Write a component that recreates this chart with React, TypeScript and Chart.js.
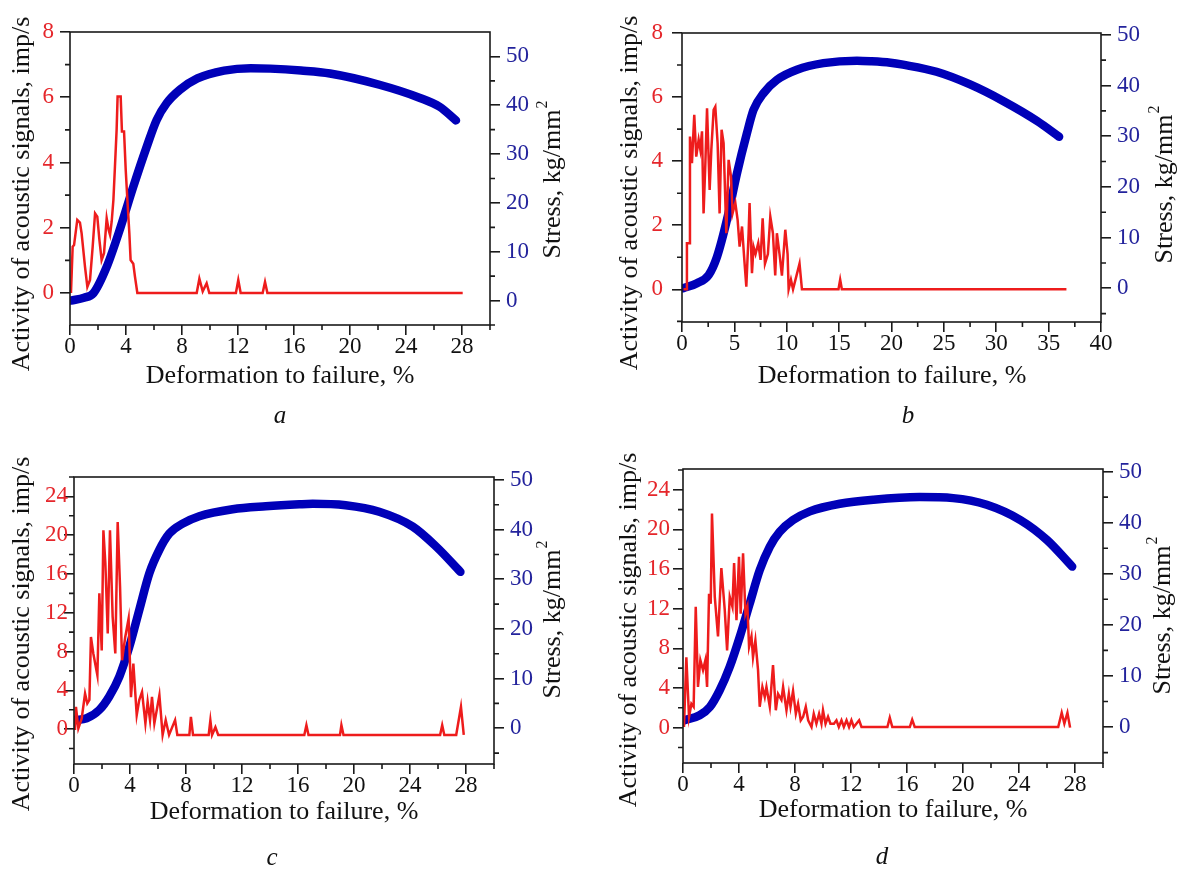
import React, { useEffect, useRef } from 'react';
import { Chart, registerables } from 'chart.js';

Chart.register(...registerables);

const SERIF = '"Liberation Serif", "Times New Roman", serif';
const RED = '#ee1c1c';
const BLUE = '#0000b8';
const RED_TXT = '#e5262b';
const BLUE_TXT = '#23239c';
const AXIS = '#1a1a1a';

const X_TITLE = 'Deformation to failure, %';
const Y_LEFT_TITLE = 'Activity of acoustic signals, imp/s';
const Y_RIGHT_TITLE = 'Stress, kg/mm';
const Y_RIGHT_SUP = '2';

// ---------- Panel a ----------
const aSigX = [0.07, 0.19, 0.29, 0.52, 0.71, 0.83, 1.07, 1.24, 1.43, 1.62, 1.79, 1.95, 2.1, 2.26, 2.43, 2.62, 2.76, 2.86, 2.98, 3.1, 3.21, 3.33, 3.4, 3.62, 3.71, 3.86, 3.98, 4.1, 4.24, 4.33, 4.52, 4.64, 4.81, 9.05, 9.24, 9.48, 9.76, 9.95, 11.85, 12.02, 12.19, 13.76, 13.93, 14.1, 28.05];
const aSigY = [0, 1.42, 1.47, 2.24, 2.16, 1.83, 0.81, 0.19, 0.4, 1.42, 2.44, 2.34, 1.63, 1.01, 1.22, 2.29, 1.93, 1.78, 2.2, 2.85, 3.87, 5.0, 6.02, 6.02, 4.95, 4.95, 3.77, 2.85, 1.83, 1.01, 0.9, 0.5, 0, 0, 0.44, 0.05, 0.3, 0, 0, 0.4, 0, 0, 0.34, 0, 0];
const aStrX = [0.07, 1.0, 1.67, 2.62, 3.62, 4.52, 5.48, 6.19, 6.9, 7.86, 9.1, 11.0, 12.9, 14.3, 16.5, 18.57, 22.1, 25.0, 26.4, 27.57];
const aStrY = [0, 0.6, 1.5, 6.9, 15.1, 23.3, 31.5, 37, 40.4, 43.2, 45.5, 47.1, 47.6, 47.5, 47.1, 46.5, 44.2, 41.5, 39.7, 36.9];
const aXTicks = [0, 4, 8, 12, 16, 20, 24, 28];
const aLeftTicks = [0, 2, 4, 6, 8];
const aRightTicks = [0, 10, 20, 30, 40, 50];

// ---------- Panel b ----------
const bSigX = [0.15, 0.41, 0.47, 0.73, 0.76, 0.95, 1.17, 1.36, 1.59, 1.75, 1.91, 2.06, 2.22, 2.39, 2.64, 2.8, 3.02, 3.18, 3.4, 3.59, 3.78, 3.97, 4.23, 4.45, 4.68, 4.83, 5.09, 5.31, 5.5, 5.73, 5.95, 6.14, 6.36, 6.45, 6.68, 6.83, 7.02, 7.28, 7.5, 7.7, 7.92, 8.2, 8.43, 8.68, 8.9, 9.06, 9.31, 9.54, 9.86, 10.08, 10.18, 10.4, 10.6, 11.22, 11.45, 14.94, 15.1, 15.26, 36.7];
const bSigY = [0, 0, 1.44, 1.44, 4.77, 3.94, 5.45, 4.14, 4.67, 4.36, 4.93, 2.37, 3.83, 5.65, 3.1, 4.36, 5.6, 5.7, 4.56, 2.37, 4.98, 4.56, 1.75, 4.04, 3.52, 2.37, 2.7, 2.17, 1.33, 1.96, 0.92, 0.08, 1.75, 2.69, 0.5, 1.33, 1.1, 1.44, 0.92, 2.22, 0.8, 1.1, 2.27, 1.75, 0.43, 1.75, 1.1, 0.43, 1.86, 1.1, 0, 0.3, 0, 0.8, 0, 0, 0.3, 0, 0];
const bStrX = [0.1, 1.43, 2.54, 3.34, 4.29, 5.25, 6.2, 6.83, 7.79, 9.06, 10.97, 13.5, 16.7, 18.0, 19.9, 21.1, 24.3, 27.5, 30.7, 33.9, 36.0];
const bStrY = [0, 1.0, 2.6, 6.2, 13.5, 22.7, 30.6, 35.2, 38.5, 41.1, 43.1, 44.4, 44.9, 44.8, 44.5, 44.1, 42.7, 40.2, 36.9, 33.0, 29.9];
const bXTicks = [0, 5, 10, 15, 20, 25, 30, 35, 40];
const bLeftTicks = [0, 2, 4, 6, 8];
const bRightTicks = [0, 10, 20, 30, 40, 50];

// ---------- Panel c ----------
const cSigX = [0.07, 0.14, 0.31, 0.55, 0.79, 0.95, 1.1, 1.21, 1.38, 1.67, 1.81, 1.98, 2.1, 2.24, 2.41, 2.57, 2.76, 2.95, 3.12, 3.29, 3.43, 3.66, 3.9, 4.07, 4.24, 4.48, 4.66, 4.86, 5.1, 5.26, 5.43, 5.57, 5.74, 6.1, 6.33, 6.55, 6.79, 7.22, 7.38, 8.24, 8.35, 8.5, 9.62, 9.74, 9.86, 10.1, 10.3, 16.45, 16.6, 16.75, 19.0, 19.1, 19.25, 26.15, 26.3, 26.45, 27.3, 27.64, 27.84];
const cSigY = [-0.1, 2.3, 0.07, 1.1, 3.67, 2.64, 3.0, 9.5, 7.8, 5.56, 14.0, 8.1, 20.5, 17.1, 9.86, 20.5, 11.6, 7.8, 21.35, 14.65, 7.1, 9.5, 11.4, 3.3, 6.76, 1.44, 3.0, 3.84, 0.59, 2.81, 0.93, 3.33, 0.59, 3.5, -0.6, 0.93, -0.6, 0.93, -0.6, -0.6, 1.27, -0.6, -0.6, 0.9, -0.6, 0.2, -0.6, -0.6, 0.41, -0.6, -0.6, 0.41, -0.6, -0.6, 0.41, -0.6, -0.6, 2.3, -0.6];
const cStrX = [0.07, 0.9, 1.81, 2.52, 3.24, 3.95, 4.66, 5.38, 6.09, 6.81, 7.76, 8.95, 11.33, 13.7, 16.1, 17.05, 19.4, 21.8, 24.2, 25.9, 27.6];
const cStrY = [1.67, 2.0, 3.7, 6.4, 10.4, 16.4, 23.8, 31.2, 35.9, 39.2, 41.2, 42.7, 44.1, 44.7, 45.1, 45.2, 44.9, 43.6, 40.6, 36.5, 31.5];
const cXTicks = [0, 4, 8, 12, 16, 20, 24, 28];
const cLeftTicks = [0, 4, 8, 12, 16, 20, 24];
const cRightTicks = [0, 10, 20, 30, 40, 50];

// ---------- Panel d ----------
const dSigX = [0.07, 0.24, 0.43, 0.6, 0.76, 0.91, 1.07, 1.24, 1.43, 1.6, 1.72, 1.86, 1.98, 2.07, 2.27, 2.5, 2.74, 2.98, 3.15, 3.34, 3.53, 3.65, 3.82, 4.0, 4.12, 4.29, 4.46, 4.6, 4.72, 4.89, 5.0, 5.17, 5.36, 5.48, 5.67, 5.84, 5.96, 6.2, 6.43, 6.63, 6.79, 7.03, 7.15, 7.39, 7.56, 7.68, 7.86, 8.06, 8.22, 8.41, 8.58, 8.77, 8.94, 9.18, 9.34, 9.53, 9.72, 9.89, 10.0, 10.18, 10.36, 10.53, 10.78, 10.96, 11.13, 11.32, 11.49, 11.68, 11.86, 12.03, 12.2, 12.58, 12.75, 14.6, 14.77, 14.95, 16.2, 16.37, 16.55, 26.8, 27.05, 27.24, 27.46, 27.65];
const dSigY = [0.06, 7.1, 1.07, 2.4, 2.1, 12.2, 4.1, 6.8, 5.8, 6.8, 4.1, 13.5, 12.5, 21.6, 13.2, 9.2, 16.1, 11.9, 7.8, 13.2, 12.2, 16.6, 10.85, 17.25, 11.5, 17.6, 11.5, 12.2, 8.15, 9.2, 7.1, 8.8, 5.8, 2.1, 4.1, 3.1, 4.1, 2.1, 6.3, 1.75, 3.4, 2.8, 4.1, 1.75, 3.4, 2.1, 3.7, 1.4, 2.4, 0.74, 1.1, 2.1, 0.74, 0.06, 1.4, 0.4, 1.4, 0.4, 1.75, 0.4, 1.1, 0.4, 0.4, 0.74, 0.06, 0.74, 0.06, 0.74, 0.06, 0.74, 0.06, 0.74, 0.06, 0.06, 1.0, 0.06, 0.06, 0.8, 0.06, 0.06, 1.5, 0.4, 1.5, 0];
const dStrX = [0.07, 1.19, 1.91, 2.62, 3.34, 4.05, 4.77, 5.48, 6.2, 6.91, 7.86, 9.06, 11.2, 13.6, 16.9, 19.3, 21.7, 24.1, 26.0, 27.8];
const dStrY = [1.3, 2.3, 3.9, 7.2, 11.8, 17.6, 24.2, 30.7, 35.3, 38.2, 40.5, 42.2, 43.7, 44.5, 45.0, 44.8, 43.5, 40.5, 36.6, 31.4];
const dXTicks = [0, 4, 8, 12, 16, 20, 24, 28];
const dLeftTicks = [0, 4, 8, 12, 16, 20, 24];
const dRightTicks = [0, 10, 20, 30, 40, 50];

type PanelCfg = {
  letter: string;
  left: number; top: number; W: number; H: number;
  L: number; R: number; T: number; B: number;
  xMin: number; xMax: number; lMin: number; lMax: number; rMin: number; rMax: number;
  sigX: number[]; sigY: number[]; strX: number[]; strY: number[];
  xTicks: number[]; lTicks: number[]; rTicks: number[];
  xMinor: number[]; lMinor: number[]; rMinor: number[];
  lPad: number;
  lTitle: [number, number]; rTitle: [number, number]; xTitle: [number, number]; letterPos: [number, number];
};

const mids = (t: number[], lo: number, hi: number) => {
  const step = t[1] - t[0];
  const out: number[] = [];
  for (let v = t[0] - step / 2; v <= hi + 1e-9; v += step) if (v >= lo - 1e-9) out.push(v);
  return out;
};

const panels: PanelCfg[] = [
  {
    letter: 'a', left: 0, top: 0, W: 590, H: 430, L: 70, R: 490, T: 32, B: 325,
    xMin: 0, xMax: 30, lMin: -0.98, lMax: 8.0, rMin: -5, rMax: 55,
    sigX: aSigX, sigY: aSigY, strX: aStrX, strY: aStrY,
    xTicks: aXTicks, lTicks: aLeftTicks, rTicks: aRightTicks,
    xMinor: mids(aXTicks, 0, 30), lMinor: mids(aLeftTicks, -0.98, 8), rMinor: mids(aRightTicks, -5, 54),
    lPad: 6,
    lTitle: [22, 194], rTitle: [553, 180], xTitle: [280, 376], letterPos: [280, 416],
  },
  {
    letter: 'b', left: 590, top: 0, W: 590, H: 430, L: 92, R: 511, T: 33, B: 322,
    xMin: 0, xMax: 40, lMin: -1.02, lMax: 8.0, rMin: -6.65, rMax: 50.35,
    sigX: bSigX, sigY: bSigY, strX: bStrX, strY: bStrY,
    xTicks: bXTicks, lTicks: bLeftTicks, rTicks: bRightTicks,
    xMinor: mids(bXTicks, 0, 40), lMinor: mids(bLeftTicks, -1.02, 8), rMinor: mids(bRightTicks, -6.65, 50),
    lPad: 9,
    lTitle: [40, 193], rTitle: [575, 185], xTitle: [302, 376], letterPos: [318, 416],
  },
  {
    letter: 'c', left: 0, top: 430, W: 590, H: 442, L: 74, R: 494, T: 47, B: 334,
    xMin: 0, xMax: 30, lMin: -3.6, lMax: 26, rMin: -7.2, rMax: 50.6,
    sigX: cSigX, sigY: cSigY, strX: cStrX, strY: cStrY,
    xTicks: cXTicks, lTicks: cLeftTicks, rTicks: cRightTicks,
    xMinor: mids(cXTicks, 0, 30), lMinor: mids(cLeftTicks, -3.6, 26), rMinor: mids(cRightTicks, -7.2, 50),
    lPad: -4,
    lTitle: [22, 204], rTitle: [553, 190], xTitle: [284, 382], letterPos: [272, 428],
  },
  {
    letter: 'd', left: 590, top: 430, W: 590, H: 442, L: 93, R: 513, T: 39, B: 333,
    xMin: 0, xMax: 30, lMin: -3.57, lMax: 26.1, rMin: -7.04, rMax: 50.5,
    sigX: dSigX, sigY: dSigY, strX: dStrX, strY: dStrY,
    xTicks: dXTicks, lTicks: dLeftTicks, rTicks: dRightTicks,
    xMinor: mids(dXTicks, 0, 30), lMinor: mids(dLeftTicks, -3.57, 26.1), rMinor: mids(dRightTicks, -7.04, 50),
    lPad: 3,
    lTitle: [39, 200], rTitle: [573, 186], xTitle: [303, 380], letterPos: [292, 427],
  },
];

function makeChart(canvas: HTMLCanvasElement, p: PanelCfg) {
  const decor = {
    id: 'decor',
    afterDraw(chart: any) {
      const { ctx, chartArea: a, scales } = chart;
      ctx.save();
      ctx.strokeStyle = AXIS;
      ctx.lineWidth = 1.6;
      ctx.strokeRect(a.left, a.top, a.right - a.left, a.bottom - a.top);
      ctx.beginPath();
      p.xMinor.forEach((v) => {
        const px = scales.x.getPixelForValue(v);
        ctx.moveTo(px, a.bottom);
        ctx.lineTo(px, a.bottom + 5);
      });
      p.lMinor.forEach((v) => {
        const py = scales.yL.getPixelForValue(v);
        ctx.moveTo(a.left, py);
        ctx.lineTo(a.left - 5, py);
      });
      p.rMinor.forEach((v) => {
        const py = scales.yR.getPixelForValue(v);
        ctx.moveTo(a.right, py);
        ctx.lineTo(a.right + 5, py);
      });
      ctx.stroke();

      ctx.fillStyle = '#111';
      ctx.font = `26px ${SERIF}`;
      ctx.textAlign = 'center';
      ctx.textBaseline = 'middle';
      ctx.fillText(X_TITLE, p.xTitle[0], p.xTitle[1]);

      ctx.save();
      ctx.translate(p.lTitle[0], p.lTitle[1]);
      ctx.rotate(-Math.PI / 2);
      ctx.fillText(Y_LEFT_TITLE, 0, 0);
      ctx.restore();

      ctx.save();
      ctx.translate(p.rTitle[0], p.rTitle[1]);
      ctx.rotate(-Math.PI / 2);
      ctx.font = `26px ${SERIF}`;
      const w1 = ctx.measureText(Y_RIGHT_TITLE).width;
      ctx.font = `16px ${SERIF}`;
      const w2 = ctx.measureText(Y_RIGHT_SUP).width;
      const start = -(w1 + w2) / 2;
      ctx.textAlign = 'left';
      ctx.font = `26px ${SERIF}`;
      ctx.fillText(Y_RIGHT_TITLE, start, 0);
      ctx.font = `16px ${SERIF}`;
      ctx.fillText(Y_RIGHT_SUP, start + w1 + 1, -10);
      ctx.restore();

      ctx.font = `italic 25px ${SERIF}`;
      ctx.textAlign = 'center';
      ctx.fillText(p.letter, p.letterPos[0], p.letterPos[1]);
      ctx.restore();
    },
  };

  const gridCfg = {
    display: true,
    drawOnChartArea: false,
    drawTicks: true,
    tickLength: 10,
    color: AXIS,
    lineWidth: 1.6,
  };
  const tickFont = { family: SERIF, size: 23, lineHeight: 1 };

  return new Chart(canvas, {
    type: 'line',
    data: {
      datasets: [
        {
          data: p.sigX.map((x, i) => ({ x, y: p.sigY[i] })),
          yAxisID: 'yL',
          borderColor: RED,
          backgroundColor: RED,
          borderWidth: 2.5,
          pointRadius: 0,
          tension: 0,
          borderJoinStyle: 'miter',
        },
        {
          data: p.strX.map((x, i) => ({ x, y: p.strY[i] })),
          yAxisID: 'yR',
          borderColor: BLUE,
          backgroundColor: BLUE,
          borderWidth: 8.5,
          pointRadius: 0,
          cubicInterpolationMode: 'monotone',
          borderCapStyle: 'round',
          borderJoinStyle: 'round',
        },
      ],
    } as any,
    options: {
      animation: false,
      responsive: false,
      maintainAspectRatio: false,
      events: [],
      layout: { padding: { top: p.T, left: 0, right: 0, bottom: 0 } },
      plugins: { legend: { display: false }, tooltip: { enabled: false }, title: { display: false } },
      scales: {
        x: {
          type: 'linear',
          position: 'bottom',
          min: p.xMin,
          max: p.xMax,
          afterBuildTicks: (s: any) => { s.ticks = p.xTicks.map((v) => ({ value: v })); },
          afterFit: (s: any) => { s.height = p.H - p.B; },
          grid: gridCfg,
          border: { display: false },
          ticks: { color: '#111', font: tickFont, padding: 0, maxRotation: 0, autoSkip: false, callback: (v: any) => String(v) },
        },
        yL: {
          type: 'linear',
          position: 'left',
          min: p.lMin,
          max: p.lMax,
          afterBuildTicks: (s: any) => { s.ticks = p.lTicks.map((v) => ({ value: v })); },
          afterFit: (s: any) => { s.width = p.L; },
          grid: gridCfg,
          border: { display: false },
          ticks: { color: RED_TXT, font: tickFont, padding: p.lPad, autoSkip: false, callback: (v: any) => String(v) },
        },
        yR: {
          type: 'linear',
          position: 'right',
          min: p.rMin,
          max: p.rMax,
          afterBuildTicks: (s: any) => { s.ticks = p.rTicks.map((v) => ({ value: v })); },
          afterFit: (s: any) => { s.width = p.W - p.R; },
          grid: gridCfg,
          border: { display: false },
          ticks: { color: BLUE_TXT, font: tickFont, padding: 6, autoSkip: false, callback: (v: any) => String(v) },
        },
      },
    } as any,
    plugins: [decor],
  });
}

function PanelChart({ p }: { p: PanelCfg }) {
  const ref = useRef<HTMLCanvasElement | null>(null);
  useEffect(() => {
    if (!ref.current) return;
    const chart = makeChart(ref.current, p);
    return () => chart.destroy();
  }, [p]);
  return (
    <canvas
      ref={ref}
      width={p.W}
      height={p.H}
      style={{ position: 'absolute', left: p.left, top: p.top, width: p.W, height: p.H }}
    />
  );
}

export default function App() {
  return (
    <div style={{ position: 'absolute', left: 0, top: 0, width: 1180, height: 872, background: '#ffffff', overflow: 'hidden' }}>
      {panels.map((p) => (
        <PanelChart key={p.letter} p={p} />
      ))}
    </div>
  );
}
